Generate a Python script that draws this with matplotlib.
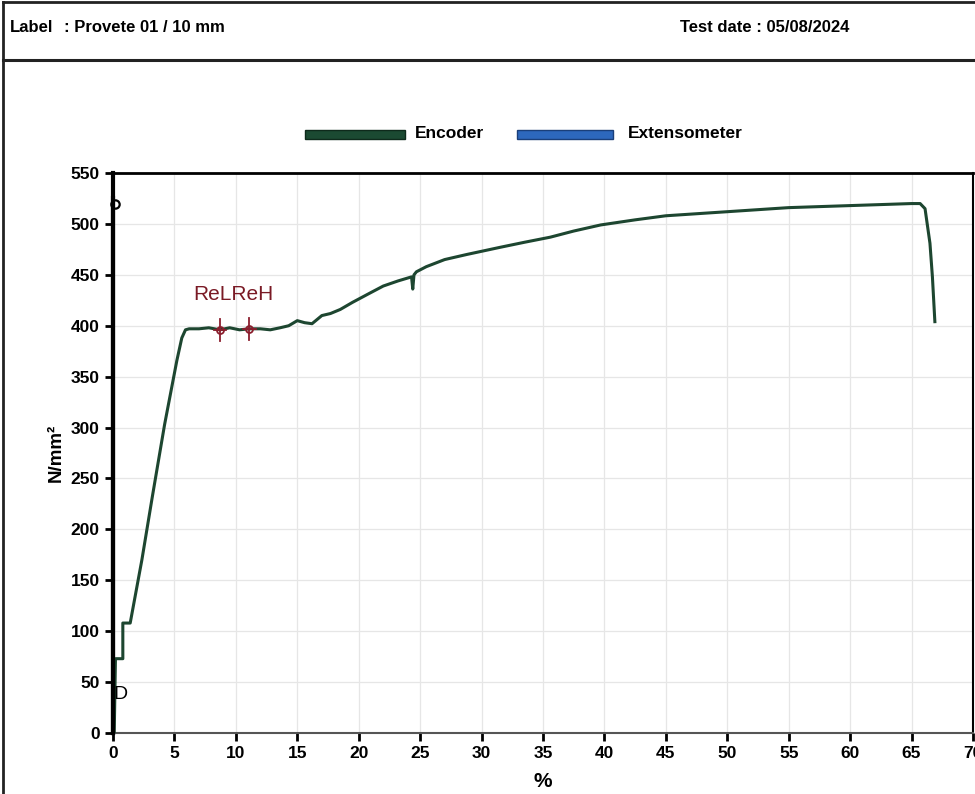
import matplotlib
matplotlib.use("Agg")
import matplotlib.pyplot as plt
from matplotlib.patches import Rectangle
from matplotlib.lines import Line2D

plt.rcParams['font.family'] = ['Liberation Sans', 'DejaVu Sans']

# stress-strain curve (encoder), strain in %, stress in N/mm2
strain = [0.0, 0.1, 0.2, 0.8, 0.8, 1.4, 2.35, 3.2, 4.2, 5.2, 5.6, 5.9, 6.2,
          7.0, 7.8, 8.7, 9.5, 10.3, 11.1, 12.0, 12.8, 13.6, 14.3, 15.0, 15.6,
          16.2, 17.0, 17.7, 18.5, 19.5, 20.9, 22.0, 23.2, 24.3, 24.4, 24.5,
          24.7, 25.5, 27.0, 28.8, 31.5, 33.5, 35.6, 37.5, 39.7, 42.5, 45.0,
          47.5, 50.0, 52.5, 55.0, 57.5, 60.0, 62.5, 65.0, 65.7, 66.1, 66.5,
          66.7, 66.9]
stress = [0, 0, 73, 73, 108, 108, 170, 232, 303, 366, 388, 396, 397,
          397, 398, 396, 398, 396, 397, 397, 396, 398, 400, 405, 403,
          402, 410, 412, 416, 423, 432, 439, 444, 448, 436, 450,
          453, 458, 465, 470, 477, 482, 487, 493, 499, 504, 508,
          510, 512, 514, 516, 517, 518, 519, 520, 520, 515, 481,
          448, 404]

# yield points
rel_x, rel_y = 8.7, 396
reh_x, reh_y = 11.1, 397

xticks = list(range(0, 75, 5))
yticks = list(range(0, 600, 50))

fig = plt.figure(figsize=(9.75, 7.94), dpi=100)
ax = fig.add_axes([0.1159, 0.0768, 0.882, 0.7053])

ax.plot(strain, stress, color='#1d4630', lw=2.2, solid_joinstyle='round', zorder=3)

# marks left along the zero line
ax.plot([0, 0], [0, 525], color='black', lw=3, zorder=4, clip_on=False)
ax.plot(0.15, 520, 'o', ms=6, mfc='none', mec='black', mew=1.6, zorder=5, clip_on=False)
ax.text(0.0, 38, 'D', fontsize=14, va='center', ha='left', color='black')

for x, y in [(rel_x, rel_y), (reh_x, reh_y)]:
    ax.plot(x, y, 'o', ms=5, mfc='none', mec='#8b1e2d', mew=1.3, zorder=6)
    ax.plot([x, x], [y - 11, y + 11], color='#8b1e2d', lw=1.3, zorder=6)
    ax.plot([x - 0.5, x + 0.5], [y, y], color='#8b1e2d', lw=1.3, zorder=6)
ax.text(6.5, 421, 'ReLReH', color='#7a1a25', fontsize=15, ha='left', va='bottom')

ax.set_xlim(0, 70)
ax.set_ylim(0, 550)
ax.set_xticks(xticks)
ax.set_yticks(yticks)
ax.grid(True, color='#e6e6e6', lw=0.9)
ax.tick_params(axis='both', direction='out', length=6, width=2, labelsize=12.5)
for lbl in ax.get_xticklabels() + ax.get_yticklabels():
    lbl.set_fontweight('bold')
ax.spines['left'].set_linewidth(3)
ax.spines['top'].set_linewidth(2)
ax.spines['bottom'].set_linewidth(1.5)
ax.spines['bottom'].set_color('#555555')
ax.spines['right'].set_linewidth(1.5)
ax.set_xlabel('%', fontsize=15, fontweight='bold', labelpad=8)
ax.set_ylabel('N/mm²', fontsize=13.5, fontweight='bold', labelpad=4)

# legend bars
fig.patches.append(Rectangle((305 / 975, 1 - 139 / 794), 100 / 975, 9 / 794,
                             transform=fig.transFigure, fc='#1b4a32', ec='#0e2a1b', lw=1))
fig.text(415 / 975, 1 - 133 / 794, 'Encoder', fontsize=12.5, va='center', fontweight='bold')
fig.patches.append(Rectangle((517 / 975, 1 - 139 / 794), 96 / 975, 9 / 794,
                             transform=fig.transFigure, fc='#2d68bd', ec='#1a3f7a', lw=1))
fig.text(628 / 975, 1 - 133 / 794, 'Extensometer', fontsize=12.5, va='center', fontweight='bold')

# page header
fig.text(10 / 975, 1 - 28 / 794, 'Label', fontsize=12, va='center', fontweight='bold')
fig.text(64 / 975, 1 - 28 / 794, ': Provete 01 / 10 mm', fontsize=12, va='center', fontweight='bold')
fig.text(680 / 975, 1 - 28 / 794, 'Test date : 05/08/2024', fontsize=12, va='center', fontweight='bold')
fig.add_artist(Line2D([3 / 975, 1], [1 - 60 / 794] * 2, transform=fig.transFigure,
                      color='#222222', lw=2.2))
fig.add_artist(Line2D([3 / 975, 1], [1 - 2 / 794] * 2, transform=fig.transFigure,
                      color='#222222', lw=2))
fig.add_artist(Line2D([3 / 975] * 2, [0, 1 - 2 / 794], transform=fig.transFigure,
                      color='#222222', lw=2))

fig.savefig('out.png', dpi=100)
